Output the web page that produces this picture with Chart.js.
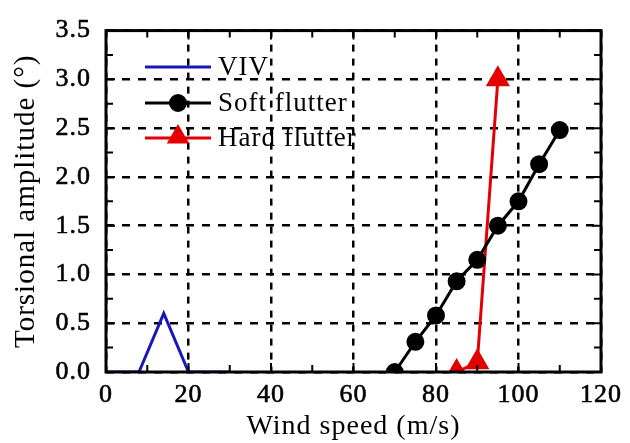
<!DOCTYPE html>
<html>
<head>
<meta charset="utf-8">
<script src="https://cdn.jsdelivr.net/npm/chart.js@4.4.0/dist/chart.umd.min.js"></script>
<style>
  html, body { margin: 0; padding: 0; background: #fff; }
  #wrap { width: 630px; height: 443px; }
</style>
</head>
<body>
<div id="wrap"><canvas id="chart" width="630" height="443"></canvas></div>
<script>
// data
var vivX = [0, 8, 14, 20, 30];
var vivY = [0, 0, 0.6, 0, 0];
var softX = [70, 75, 80, 85, 90, 95, 100, 105, 110];
var softY = [0, 0.31, 0.58, 0.93, 1.15, 1.5, 1.75, 2.13, 2.48];
var hardX = [85, 90, 95];
var hardY = [0, 0.1, 3.0];
var seriesNames = ['VIV', 'Soft flutter', 'Hard flutter'];

function pts(xs, ys) {
    return xs.map(function (x, i) { return { x: x, y: ys[i] }; });
}

var serif = "'Liberation Serif', 'Times New Roman', serif";
var spacing = '1px';

// wider letters like the original figure
var letterSpace = {
    id: 'letterSpace',
    beforeLayout: function (chart) { chart.ctx.letterSpacing = spacing; },
    beforeDraw: function (chart) { chart.ctx.letterSpacing = spacing; }
};

// frame, inward minor ticks and the legend inside the plot
var frame = {
    id: 'frame',
    afterDraw: function (chart) {
        var ctx = chart.ctx, a = chart.chartArea;
        var xs = chart.scales.x, ys = chart.scales.y;
        ctx.save();
        ctx.strokeStyle = '#000';
        ctx.lineWidth = 2;
        ctx.beginPath();
        for (var v = 0; v <= 120; v += 10) {
            var px = xs.getPixelForValue(v);
            var len = v % 20 === 0 ? 9 : 7;
            ctx.moveTo(px, a.bottom); ctx.lineTo(px, a.bottom - len);
            ctx.moveTo(px, a.top); ctx.lineTo(px, a.top + len);
        }
        for (var w = 0; w <= 3.5; w += 0.25) {
            var py = ys.getPixelForValue(w);
            var l2 = Math.abs(w * 2 - Math.round(w * 2)) < 1e-6 ? 9 : 7;
            ctx.moveTo(a.left, py); ctx.lineTo(a.left + l2, py);
            ctx.moveTo(a.right, py); ctx.lineTo(a.right - l2, py);
        }
        ctx.stroke();
        ctx.lineWidth = 3;
        ctx.strokeRect(a.left, a.top, a.right - a.left, a.bottom - a.top);

        // legend
        var rows = [67, 103, 138];
        var x0 = 145, x1 = 211;
        chart.data.datasets.forEach(function (ds, i) {
            var y = rows[i];
            ctx.strokeStyle = ds.borderColor;
            ctx.lineWidth = ds.borderWidth;
            ctx.beginPath(); ctx.moveTo(x0, y); ctx.lineTo(x1, y); ctx.stroke();
            if (ds.pointStyle && ds.pointRadius > 0) {
                var r = ds.pointStyle === 'triangle' ? ds.pointRadius - 1 : ds.pointRadius;
                Chart.helpers.drawPoint(ctx, {
                    pointStyle: ds.pointStyle, radius: r,
                    borderWidth: 1, rotation: 0
                }, (x0 + x1) / 2, y + (ds.pointStyle === 'triangle' ? -1 : 0));
                ctx.fillStyle = ds.backgroundColor;
                ctx.fill();
            }
            ctx.fillStyle = '#000';
            ctx.font = '27px ' + serif;
            ctx.letterSpacing = spacing;
            ctx.textBaseline = 'middle';
            ctx.textAlign = 'left';
            ctx.fillText(ds.label, 218, y + 1);
        });
        ctx.restore();
    }
};

var ctx = document.getElementById('chart').getContext('2d');
new Chart(ctx, {
    type: 'scatter',
    data: {
        datasets: [{
            label: seriesNames[0],
            data: pts(vivX, vivY),
            showLine: true,
            borderColor: 'rgb(24,24,185)',
            backgroundColor: 'rgb(24,24,185)',
            borderWidth: 3,
            pointRadius: 0
        }, {
            label: seriesNames[1],
            data: pts(softX, softY),
            showLine: true,
            borderColor: '#000',
            backgroundColor: '#000',
            borderWidth: 3,
            pointStyle: 'circle',
            pointRadius: 7.5
        }, {
            label: seriesNames[2],
            data: pts(hardX, hardY),
            showLine: true,
            borderColor: 'rgb(228,0,0)',
            backgroundColor: 'rgb(228,0,0)',
            borderWidth: 3,
            pointStyle: 'triangle',
            pointRadius: 11
        }]
    },
    options: {
        responsive: false,
        animation: false,
        layout: { padding: { top: 24, right: 25, left: 0, bottom: 0 } },
        plugins: {
            legend: { display: false },
            tooltip: { enabled: false }
        },
        scales: {
            x: {
                type: 'linear',
                min: 0, max: 120,
                afterFit: function (s) { s.height = 71; },
                ticks: {
                    stepSize: 20,
                    color: '#000',
                    padding: 8,
                    maxRotation: 0,
                    textStrokeColor: '#000',
                    textStrokeWidth: 0.6,
                    font: { family: serif, size: 26 }
                },
                grid: {
                    color: '#000',
                    lineWidth: 2.5,
                    drawTicks: false
                },
                border: { display: false, dash: [7, 7] },
                title: {
                    display: true,
                    text: 'Wind speed (m/s)',
                    color: '#000',
                    padding: { top: 0, bottom: 0 },
                    font: { family: serif, size: 28 }
                }
            },
            y: {
                type: 'linear',
                min: 0, max: 3.5,
                afterFit: function (s) { s.width = 106; },
                ticks: {
                    stepSize: 0.5,
                    color: '#000',
                    padding: 15,
                    textStrokeColor: '#000',
                    textStrokeWidth: 0.6,
                    font: { family: serif, size: 26 },
                    callback: function (v) { return v.toFixed(1); }
                },
                grid: {
                    color: '#000',
                    lineWidth: 2.5,
                    drawTicks: false
                },
                border: { display: false, dash: [8, 8] },
                title: {
                    display: true,
                    text: 'Torsional amplitude (°)',
                    color: '#000',
                    padding: { top: 9, bottom: 0 },
                    font: { family: serif, size: 29 }
                }
            }
        }
    },
    plugins: [letterSpace, frame]
});
</script>
</body>
</html>
